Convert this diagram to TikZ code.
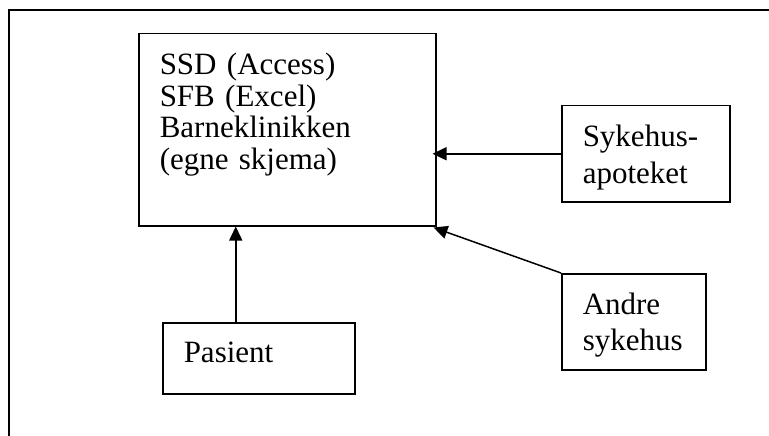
\documentclass[tikz,border=0pt]{standalone}
\usepackage{fontspec}
\setmainfont{Liberation Serif}
\usetikzlibrary{arrows.meta}
\tikzstyle{box}=[draw=black,line width=1.5pt,anchor=north west,inner ysep=0pt,inner xsep=21pt,align=left]
\tikzstyle{flow}=[line width=1.5pt,-{Triangle[length=14pt,width=13pt]}]

\begin{document}
\begin{tikzpicture}[x=1pt, y=-1pt, font=\fontsize{31}{31.5}\selectfont]
\useasboundingbox (0,0) rectangle (769,436);
%frame
\draw[line width=1.7pt] (9,436) -- (9,10) -- (769,10);
%boxes
\node[box, text width=255pt, text height=41pt, text depth=151pt] (reg) at (138,33)
{SSD (Access)\\SFB (Excel)\\Barneklinikken\\(egne skjema)};
\node[box, text width=126pt, text height=41pt, text depth=55pt,
      font=\fontsize{31}{37}\selectfont] (apotek) at (561,105)
{Sykehus-\\apoteket};
\node[box, text width=102pt, text height=41pt, text depth=55pt,
      font=\fontsize{31}{36}\selectfont] (andre) at (561,273)
{Andre\\sykehus};
\node[box, text width=150pt, text height=40pt, text depth=31pt] (pas) at (162,322)
{Pasient};
%arrows
\coordinate (pas top) at ([xshift=-23pt]pas.north);
\draw[flow] (apotek.west) -- ([xshift=-4pt]reg.east |- apotek.west);
\draw[flow] (andre.north west) -- ([shift={(-3pt,-1pt)}]reg.south east);
\draw[flow] (pas top) -- (reg.south -| pas top);
\end{tikzpicture}
\end{document}
